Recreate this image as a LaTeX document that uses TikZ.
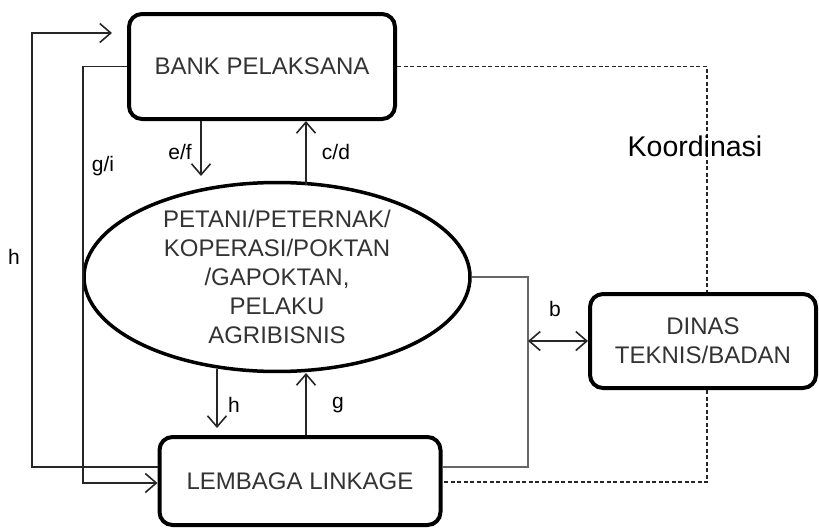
\documentclass[tikz,border=0pt]{standalone}
\usepackage{fontspec}
\setmainfont{Liberation Sans}
\usetikzlibrary{arrows.meta,shapes.geometric}
\begin{document}
\begin{tikzpicture}[x=1pt,y=-1pt,
  boxtext/.style={font=\fontsize{24}{29}\selectfont, text=black!80, align=center},
  rbox/.style={draw=black, line width=4pt, rounded corners=13pt, fill=white, inner sep=0pt, boxtext},
  conn/.style={line width=1.6pt, black!85},
  arr/.style={conn, -{Straight Barb[length=11pt,width=19pt,line width=1.6pt]}},
  graycon/.style={line width=1.6pt, black!60},
  dashcon/.style={line width=1.8pt, black!85, dash pattern=on 4pt off 2.5pt},
  lbl/.style={font=\fontsize{21}{24}\selectfont, inner sep=0pt}
]
\useasboundingbox (0,0) rectangle (819,530);

\node[rbox, minimum width=266pt, minimum height=105pt] (bank) at (262,66.5) {BANK PELAKSANA};
\node[draw=black, line width=3.5pt, ellipse, fill=white, inner sep=0pt, minimum width=386pt, minimum height=186pt, boxtext] (ell) at (277,277)
  {PETANI/PETERNAK/\\KOPERASI/POKTAN\\/GAPOKTAN,\\PELAKU\\AGRIBISNIS};
\node[rbox, minimum width=226pt, minimum height=94pt] (dinas) at (703,341) {DINAS\\TEKNIS/BADAN};
\node[rbox, minimum width=281pt, minimum height=88pt] (lemb) at (300,481) {LEMBAGA LINKAGE};

% coordinates
\coordinate (eftip) at (201,176);
\coordinate (cdbot) at (306,185);
\coordinate (hdtop) at (217,369);
\coordinate (htip) at (217,428);
\coordinate (gtip) at (306,373);
\coordinate (hleft) at (32,467);
\coordinate (htop) at (32,33);
\coordinate (hend) at (112,33);
\coordinate (gil) at (83,66.5);
\coordinate (gib) at (83,483);
\coordinate (k1) at (707,66.5);
\coordinate (k2) at (707,482);
\coordinate (gr1) at (528,277);
\coordinate (gr2) at (528,467);
\coordinate (bl) at (528,341);

% bank <-> ellipse
\draw[arr] (bank.south -| eftip) -- (eftip);
\draw[arr] (cdbot) -- (bank.south -| cdbot);
% ellipse <-> lembaga
\draw[arr] (hdtop) -- (htip);
\draw[arr] (lemb.north -| gtip) -- (gtip);
% left lines
\draw[arr] (lemb.west |- hleft) -- (hleft) -- (htop) -- (hend);
\draw[arr] (bank.west |- gil) -- (gil) -- (gib) -- (lemb.west |- gib);
% coordination dashed
\draw[dashcon] (bank.east) -- (k1) -- (dinas.north -| k1);
\draw[dashcon] (dinas.south -| k1) -- (k2) -- (lemb.east |- k2);
% gray connector
\draw[graycon] (ell.east) -- (gr1) -- (gr2) -- (lemb.east |- gr2);
\draw[conn, {Straight Barb[length=11pt,width=19pt,line width=1.6pt]}-{Straight Barb[length=11pt,width=19pt,line width=1.6pt]}] (bl) -- (dinas.west);

% labels
\node[lbl] (lef) at (180,152) {e/f};
\node[lbl] (lcd) at (336,152) {c/d};
\node[lbl] (lgi) at (103,166) {g/i};
\node[lbl] (lh1) at (14,257) {h};
\node[lbl] (lh2) at (234,405) {h};
\node[lbl] (lg) at (338,405) {g};
\node[lbl] (lb) at (555,309) {b};
\node[font=\fontsize{28.5}{32}\selectfont, inner sep=0pt] (koord) at (695,146) {Koordinasi};
\end{tikzpicture}
\end{document}
